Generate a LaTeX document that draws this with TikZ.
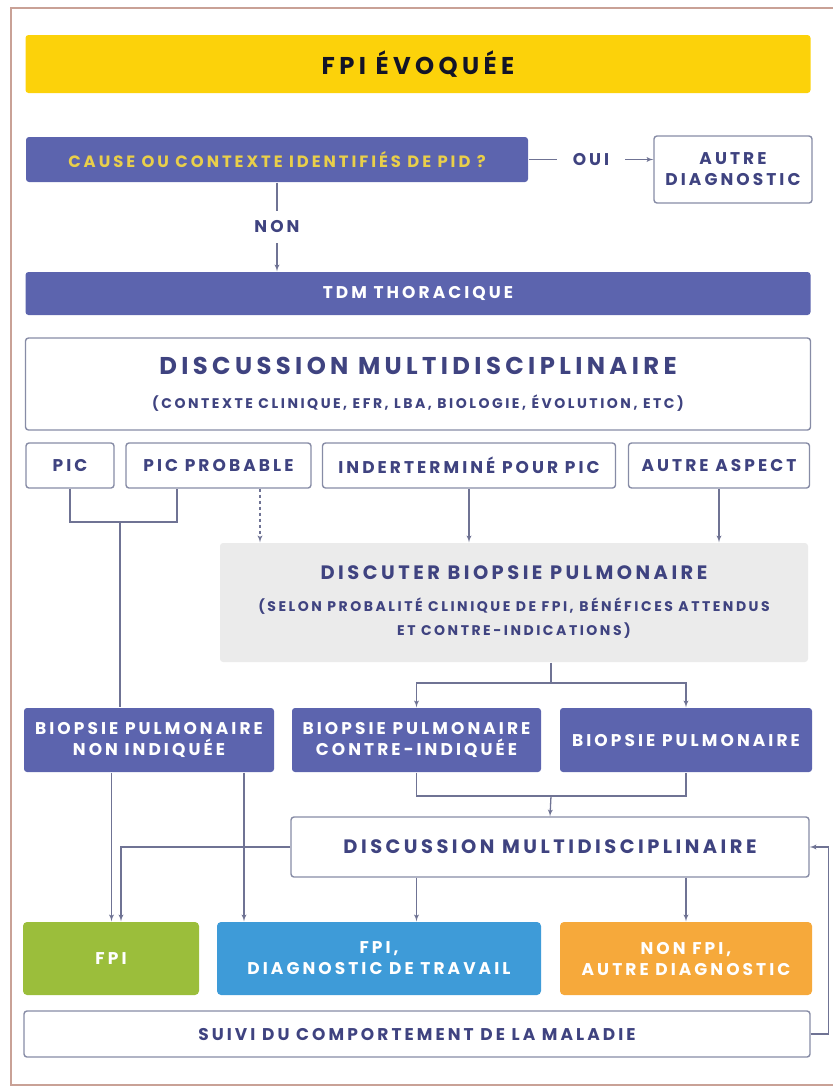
\documentclass[tikz,border=0pt]{standalone}
\usepackage{fontspec}
\setmainfont{Poppins}[LetterSpace=18]
\usetikzlibrary{shapes,arrows}
\definecolor{slate}{HTML}{5C64AE}
\definecolor{navy}{HTML}{3F4380}
\definecolor{boxgray}{HTML}{878CA6}
\definecolor{linegray}{HTML}{6F7394}
\definecolor{mustard}{HTML}{E9CF4A}
\definecolor{sun}{HTML}{FCD20A}
\definecolor{cloud}{HTML}{EBEBEB}
\definecolor{leaf}{HTML}{9BBE3B}
\definecolor{sky}{HTML}{3E9BD8}
\definecolor{amber}{HTML}{F6A93B}
\definecolor{frame}{HTML}{C9A196}
\tikzstyle{box} = [rectangle, draw=boxgray, line width=1.4pt, fill=white, text=navy, rounded corners=3pt, align=center, inner sep=0pt, font=\bfseries\fontsize{17}{21}\selectfont]
\tikzstyle{bluebox} = [box, draw=none, fill=slate, text=white]
\tikzstyle{result} = [box, draw=none, text=white, rounded corners=4pt]
\tikzstyle{line} = [draw=linegray, line width=1.3pt, -latex']
\tikzstyle{plain} = [draw=linegray, line width=1.3pt]
\tikzstyle{tag} = [fill=white, text=navy, inner xsep=16pt, inner ysep=10pt, font=\bfseries\fontsize{17}{21}\selectfont]

\begin{document}
\begin{tikzpicture}[x=1pt, y=-1pt]
		\useasboundingbox (0,0) rectangle (833,1088);
		\draw [frame, line width=1.2pt] (840,8) -- (11,8) -- (11,1085) -- (840,1085);

		\node [box, draw=none, fill=sun, text=black!70!navy, minimum width=785, minimum height=58, font=\bfseries\fontsize{24.3}{29}\selectfont] (evoquee) at (418,64) {FPI ÉVOQUÉE};
		\node [bluebox, text=mustard, minimum width=502, minimum height=45, font=\bfseries\fontsize{16.4}{20}\selectfont] (cause) at (277,159.5) {CAUSE OU CONTEXTE IDENTIFIÉS DE PID ?};
		\node [box, minimum width=158, minimum height=67] (autrediag) at (733,169.5) {AUTRE\\DIAGNOSTIC};
		\node [bluebox, minimum width=785, minimum height=43] (tdm) at (418,293.5) {TDM THORACIQUE};
		\node [box, minimum width=785, minimum height=92] (dmd) at (418,384) {{\fontsize{24.3}{29}\selectfont DISCUSSION MULTIDISCIPLINAIRE}\\[13pt]{\fontsize{14}{17}\selectfont (CONTEXTE CLINIQUE, EFR, LBA, BIOLOGIE, ÉVOLUTION, ETC)}};

		\node [box, minimum width=88, minimum height=45] (pic) at (70,465.5) {PIC};
		\node [box, minimum width=185, minimum height=45] (picprob) at (218.5,465.5) {PIC PROBABLE};
		\node [box, minimum width=293, minimum height=45] (indet) at (469,465.5) {INDERTERMINÉ POUR PIC};
		\node [box, minimum width=181, minimum height=45] (autreasp) at (719,465.5) {AUTRE ASPECT};

		\node [box, draw=none, fill=cloud, minimum width=588, minimum height=119] (discuter) at (514,602.5) {{\fontsize{19.4}{24}\selectfont DISCUTER BIOPSIE PULMONAIRE}\\[11pt]{\fontsize{14}{17}\selectfont (SELON PROBALITÉ CLINIQUE DE FPI, BÉNÉFICES ATTENDUS}\\[3pt]{\fontsize{14}{17}\selectfont ET CONTRE-INDICATIONS)}};

		\node [bluebox, minimum width=250, minimum height=64] (nonind) at (149,740) {BIOPSIE PULMONAIRE\\NON INDIQUÉE};
		\node [bluebox, minimum width=249, minimum height=64] (contreind) at (416.5,740) {BIOPSIE PULMONAIRE\\CONTRE-INDIQUÉE};
		\node [bluebox, minimum width=252, minimum height=64] (biopsie) at (686,740) {BIOPSIE PULMONAIRE};

		\node [box, minimum width=518, minimum height=60, font=\bfseries\fontsize{19.4}{24}\selectfont] (dmd2) at (550,847) {DISCUSSION MULTIDISCIPLINAIRE};

		\node [result, fill=leaf, minimum width=176, minimum height=73] (fpi) at (111,958.5) {FPI};
		\node [result, fill=sky, minimum width=324, minimum height=73] (travail) at (379,958.5) {FPI,\\DIAGNOSTIC DE TRAVAIL};
		\node [result, fill=amber, minimum width=252, minimum height=73] (nonfpi) at (686,958.5) {NON FPI,\\AUTRE DIAGNOSTIC};
		\node [box, minimum width=786, minimum height=46] (suivi) at (417,1034) {SUIVI DU COMPORTEMENT DE LA MALADIE};

		\coordinate (picjoin) at (120,522);
		\coordinate (disjoin) at (551,683);
		\coordinate (biojoin) at (551,796);

		\path [line] (cause.east) -- (cause.east -| autrediag.west) node [tag, midway] {OUI};
		\path [line] (cause.south) -- (cause.south |- tdm.north) node [tag, midway, inner xsep=4pt] {NON};

		\path [plain] (pic.south) |- (picjoin) -| ([xshift=-41.5]picprob.south);
		\path [plain] (picjoin) -- (picjoin |- nonind.north);
		\path [line, dashed] ([xshift=41.5]picprob.south) -- ([xshift=41.5]picprob.south |- discuter.north);
		\path [line] (indet.south) -- (indet.south |- discuter.north);
		\path [line] (autreasp.south) -- (autreasp.south |- discuter.north);

		\path [plain] (disjoin |- discuter.south) -- (disjoin);
		\path [line] (disjoin) -| (contreind.north);
		\path [line] (disjoin) -| (biopsie.north);

		\path [plain] (contreind.south) |- (biojoin) -| (biopsie.south);
		\path [line] (biojoin) -- (dmd2.north);

		\path [line] ([xshift=-37.5]nonind.south) -- ([xshift=-37.5]nonind.south |- fpi.north);
		\path [line] ([xshift=95]nonind.south) -- ([xshift=95]nonind.south |- travail.north);
		\path [line] (dmd2.west) -| ([xshift=10]fpi.north);
		\path [line] (contreind.south |- dmd2.south) -- (contreind.south |- travail.north);
		\path [line] (nonfpi.north |- dmd2.south) -- (nonfpi.north);
		\path [line] (suivi.east) -- ++(18,0) |- (dmd2.east);
	\end{tikzpicture}
\end{document}
